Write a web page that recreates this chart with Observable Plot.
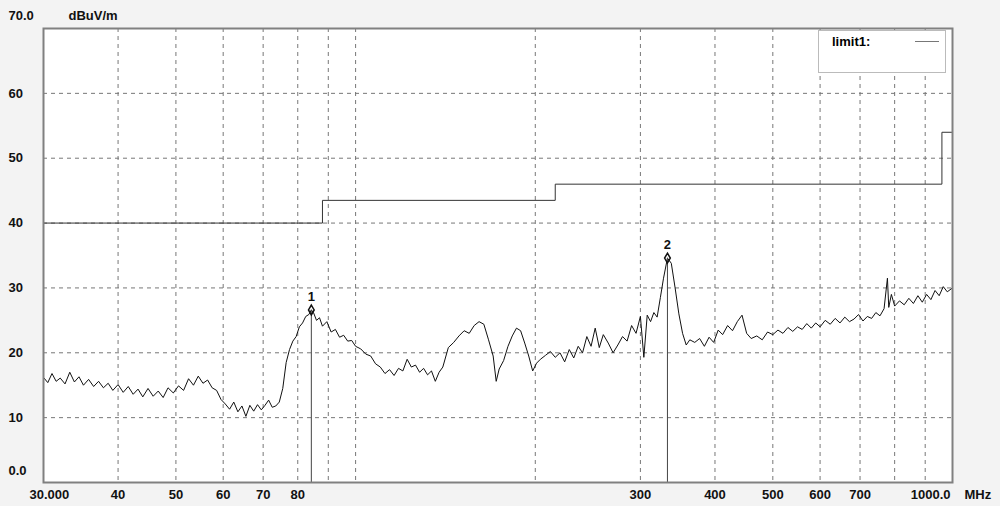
<!DOCTYPE html>
<html>
<head>
<meta charset="utf-8">
<script src="https://cdn.jsdelivr.net/npm/d3@7"></script>
<script src="https://cdn.jsdelivr.net/npm/@observablehq/plot@0.6"></script>
<style>
  body { margin: 0; background: #f3f3f3; font-family: "Liberation Sans", sans-serif; }
  #chart { position: relative; width: 1000px; height: 506px; }
  #legend { position: absolute; left: 818px; top: 30px; width: 126px; height: 41px;
    border: 1px solid #bbb; background: #fff; font: bold 13px "Liberation Sans", sans-serif; }
  #legend span { position: absolute; left: 13px; top: 3px; }
  #legend i { position: absolute; left: 96px; top: 10px; width: 24px; border-top: 1px solid #777; }
</style>
</head>
<body>
<div id="chart"><div id="legend"><span>limit1:</span><i></i></div></div>
<script>
// trace: [MHz, dBuV/m]
const trace = [
  [30,16.2],[30.5,15.4],[31,16.8],[31.5,15.6],[32,16.1],[32.6,15.2],[33.2,17.0],[33.8,15.5],[34.4,16.3],[35,15.0],
  [35.7,15.9],[36.4,14.8],[37.1,15.6],[37.8,14.6],[38.5,15.3],[39.2,14.2],[40,15.1],[40.8,13.9],[41.6,14.8],[42.4,13.6],
  [43.2,14.4],[44,13.2],[44.9,14.5],[45.8,13.3],[46.7,14.1],[47.6,13.1],[48.5,14.6],[49.5,13.8],[50.5,14.9],[51.5,14.2],
  [52.5,16.0],[53.5,15.0],[54.5,16.4],[55.5,15.3],[56.5,15.8],[57.5,14.6],[58.5,14.2],[59.5,12.8],[60.5,12.1],[61.5,11.3],
  [62.5,12.4],[63.5,10.9],[64.5,11.8],[65.5,10.2],[66.5,11.9],[67.5,11.0],[68.5,12.0],[69.5,11.2],[70.5,11.9],[71.5,12.7],
  [72.5,11.6],[73.5,11.8],[74.5,12.4],[75.5,14.5],[76.5,18.5],[77.5,20.5],[78.5,21.8],[79.5,22.5],[80.5,24.0],[81.5,24.6],
  [82.5,25.6],[83.5,25.9],[84.3,26.6],[85,26.2],[86,25.0],[87,25.4],[88,24.1],[89.5,24.8],[91,23.2],[92.5,23.6],
  [94,22.4],[95.5,22.7],[97,21.8],[98.5,21.9],[100,21.0],[102,20.6],[104,19.8],[106,19.5],[108,18.3],[110,17.8],
  [112,16.8],[114,17.4],[116,16.5],[118,17.6],[120,17.2],[122,19.0],[124,17.8],[126,18.1],[128,17.0],[130,17.6],
  [132,16.6],[134,17.2],[136,15.6],[138,17.0],[140,17.8],[143,20.8],[146,21.6],[149,22.6],[152,23.4],[155,23.0],
  [158,24.2],[161,24.8],[164,24.4],[167,22.0],[170,19.5],[172,15.6],[174,17.5],[177,18.8],[180,21.0],[183,22.6],
  [186,23.8],[189,23.4],[192,21.5],[195,19.5],[198,17.2],[201,18.4],[204,19.0],[208,19.6],[212,20.2],[216,19.3],
  [220,20.0],[224,18.6],[228,20.5],[232,19.2],[236,21.0],[240,20.0],[244,22.5],[248,21.0],[252,23.8],[256,20.8],
  [260,22.8],[265,21.5],[270,20.0],[275,21.2],[280,22.5],[285,21.8],[290,24.2],[295,23.0],[300,25.6],[304,19.3],
  [308,25.8],[312,24.8],[316,26.2],[320,25.5],[324,28.5],[328,31.5],[333,34.6],[338,33.8],[343,30.0],[348,26.0],
  [353,23.0],[358,21.2],[363,22.0],[370,21.6],[377,22.2],[384,21.0],[391,22.4],[398,21.6],[405,23.5],[412,22.8],
  [420,24.2],[428,23.4],[436,24.8],[444,25.8],[452,23.0],[460,22.2],[470,22.6],[480,22.0],[490,23.2],[500,22.8],
  [510,23.5],[520,23.0],[530,23.9],[540,23.3],[550,24.0],[560,23.6],[570,24.5],[580,23.8],[590,24.6],[600,24.0],
  [612,25.0],[624,24.4],[636,25.3],[648,24.6],[660,25.5],[672,24.8],[684,25.2],[696,25.9],[708,24.9],[720,25.6],
  [732,25.3],[744,26.2],[756,25.7],[768,26.8],[778,31.5],[782,27.0],[790,29.0],[800,27.2],[815,28.0],[830,27.4],
  [845,28.4],[860,27.6],[875,28.8],[890,27.8],[905,29.0],[920,28.2],[935,29.6],[950,28.8],[965,30.2],[980,29.4],[1000,30.0]
];
const limit1 = [[30,40],[88,40],[88,43.5],[216,43.5],[216,46],[960,46],[960,54],[1000,54]];
const markers = [{id: "1", f: 84.3, level: 26.6}, {id: "2", f: 333, level: 34.6}];
const xGrid = [40,50,60,70,80,90,100,200,300,400,500,600,700,800,900];
const xLabels = [40,50,60,70,80,300,400,500,600,700];
const yGrid = [10,20,30,40,50,60];

const bold = {fontWeight: "bold", fontSize: 13, fill: "#111"};

const chart = Plot.plot({
  width: 1000, height: 506,
  marginLeft: 43, marginRight: 48, marginTop: 28, marginBottom: 24,
  style: {background: "transparent", fontFamily: "Liberation Sans, sans-serif"},
  x: {type: "log", domain: [30, 1000], axis: null},
  y: {domain: [0, 70], axis: null},
  marks: [
    Plot.frame({fill: "white"}),
    Plot.ruleX(xGrid, {stroke: "#777", strokeDasharray: "4,4", strokeWidth: 1}),
    Plot.ruleY(yGrid, {stroke: "#777", strokeDasharray: "4,4", strokeWidth: 1}),
    Plot.line(limit1, {x: d => d[0], y: d => d[1], stroke: "#333", strokeWidth: 1}),
    Plot.line(trace, {x: d => d[0], y: d => d[1], stroke: "#111", strokeWidth: 1}),
    Plot.ruleX(markers, {x: "f", y1: 0, y2: "level", stroke: "#444", strokeWidth: 1}),
    Plot.dot(markers, {x: "f", y: "level", symbol: "diamond", r: 3, stroke: "#111", strokeWidth: 1.5}),
    Plot.text(markers, {x: "f", y: "level", text: "id", dy: -13, ...bold}),
    Plot.frame({stroke: "#808080", strokeWidth: 2}),
    // y labels
    Plot.text(yGrid, {x: 30, y: d => d, text: d => String(d), textAnchor: "start", dx: -35, ...bold}),
    Plot.text([70], {x: 30, y: d => d, text: ["70.0"], textAnchor: "start", dx: -35, dy: -13, ...bold}),
    Plot.text([0], {x: 30, y: d => d, text: ["0.0"], textAnchor: "start", dx: -35, dy: -12, ...bold}),
    Plot.text([70], {x: 30, y: d => d, text: ["dBuV/m"], textAnchor: "start", dx: 25, dy: -13, ...bold}),
    // x labels
    Plot.text(xLabels, {x: d => d, y: 0, text: d => String(d), dy: 12, ...bold}),
    Plot.text([30], {x: d => d, y: 0, text: ["30.000"], textAnchor: "start", dx: -14, dy: 12, ...bold}),
    Plot.text([1000], {x: d => d, y: 0, text: ["1000.0"], textAnchor: "end", dx: -2, dy: 12, ...bold}),
    Plot.text([1000], {x: d => d, y: 0, text: ["MHz"], textAnchor: "start", dx: 12, dy: 12, ...bold})
  ]
});
d3.select("#chart").insert(() => chart, "#legend");
d3.select(chart).style("position", "absolute").style("left", "0").style("top", "0");
</script>
</body>
</html>
